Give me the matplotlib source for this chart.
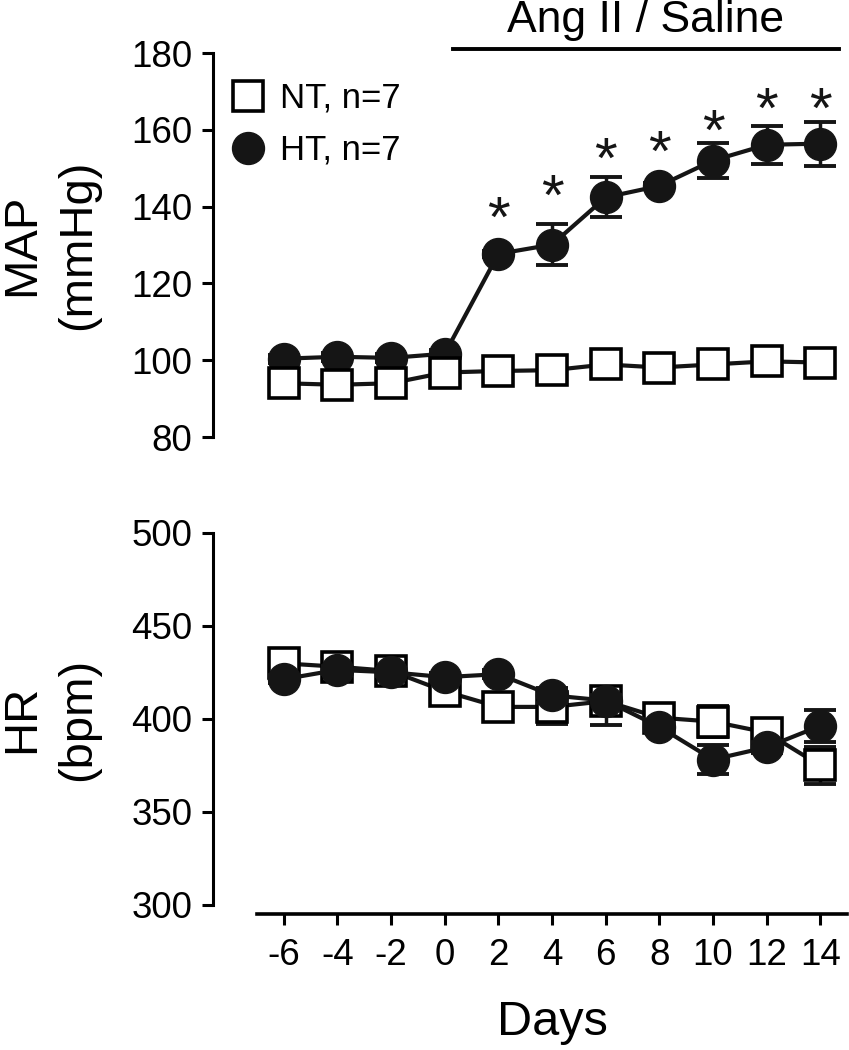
import matplotlib
matplotlib.use("Agg")
import matplotlib.pyplot as plt
from matplotlib.lines import Line2D

plt.rcParams['font.family'] = ['Liberation Sans', 'DejaVu Sans']
plt.rcParams['axes.unicode_minus'] = False

days = [-6, -4, -2, 0, 2, 4, 6, 8, 10, 12, 14]

# MAP (mmHg)
map_nt = [94.0, 93.6, 94.0, 96.8, 97.2, 97.4, 98.9, 98.1, 98.9, 99.7, 99.4]
map_nt_err = [1.0, 1.0, 1.0, 1.0, 1.0, 1.0, 1.0, 1.0, 1.0, 1.0, 1.0]
map_ht = [100.4, 100.9, 100.6, 101.7, 127.7, 130.1, 142.4, 145.4, 152.0, 156.1, 156.4]
map_ht_err = [1.0, 1.0, 1.0, 1.0, 0.8, 5.3, 5.2, 0.8, 4.6, 5.0, 5.7]

# significance stars (day, height of star centre)
star_days = [2, 4, 6, 8, 10, 12, 14]
star_y = [138.9, 144.6, 154.2, 156.0, 161.5, 167.2, 167.2]

# HR (bpm)
hr_nt = [429.9, 428.1, 425.8, 414.9, 406.5, 406.5, 409.6, 400.7, 398.6, 392.7, 375.0]
hr_nt_err = [2, 2, 2, 2, 2, 9, 3, 2, 8.5, 5, 9.7]
hr_ht = [421.4, 426.4, 425.1, 422.5, 424.1, 412.7, 409.9, 395.8, 378.2, 384.8, 396.3]
hr_ht_err_lo = [2, 2, 2, 2, 2, 4, 13, 2, 8, 3, 8.5]
hr_ht_err_hi = [2, 2, 2, 2, 2, 4, 3, 2, 8, 3, 8.5]

treatment_span = [0.3, 14.7]

fig = plt.figure(figsize=(8.49, 10.5), dpi=100)
ax1 = fig.add_axes([0.3027, 0.5838, 0.695, 0.3657])
ax2 = fig.add_axes([0.3027, 0.1381, 0.695, 0.3543])

ink = '#151515'
lw = 3
sq = dict(marker='s', ms=21, mfc='white', mec='black', mew=2.6)
ci = dict(marker='o', ms=23, mfc=ink, mec=ink, mew=1)
eb = dict(fmt='none', ecolor=ink, elinewidth=2.5, capsize=11.5, capthick=2.8)


def style_axis(ax, ymin, ymax, yticks):
    ax.set_xlim(-7, 15)
    ax.set_ylim(ymin, ymax)
    ax.set_yticks(yticks)
    for s in ['top', 'right']:
        ax.spines[s].set_visible(False)
    ax.spines['left'].set_position(('outward', 31.7))
    ax.spines['left'].set_linewidth(2.2)
    ax.spines['bottom'].set_linewidth(2.6)
    ax.tick_params(axis='y', length=8, width=2.2, pad=7, labelsize=26.5)
    ax.tick_params(axis='x', length=8, width=2.2, pad=9, labelsize=26.5)


# top panel: MAP
style_axis(ax1, 80, 180, [80, 100, 120, 140, 160, 180])
ax1.spines['bottom'].set_visible(False)
ax1.tick_params(axis='x', bottom=False, labelbottom=False)

ax1.errorbar(days, map_ht, yerr=map_ht_err, zorder=2, **eb)
ax1.plot(days, map_ht, color=ink, lw=lw, zorder=3, **ci)
ax1.errorbar(days, map_nt, yerr=map_nt_err, zorder=4, **eb)
ax1.plot(days, map_nt, color=ink, lw=lw, zorder=5, **sq)

for d, y in zip(star_days, star_y):
    ax1.annotate('*', (d, y), xytext=(0, -18.5), textcoords='offset points',
                 ha='center', va='baseline', fontsize=42, color=ink)

ax1.plot(treatment_span, [181.0, 181.0], color='black', lw=2.8, clip_on=False)
ax1.text(sum(treatment_span) / 2, 188.4, 'Ang II / Saline', ha='center', va='center',
         fontsize=32, clip_on=False)

ax1.set_ylabel('MAP\n(mmHg)', fontsize=34, linespacing=1.35, va='center')
ax1.yaxis.set_label_coords(-0.35, 0.5)

handles = [Line2D([], [], ls='none', **sq), Line2D([], [], ls='none', **ci)]
ax1.legend(handles, ['NT, n=7', 'HT, n=7'], loc='upper left',
           bbox_to_anchor=(-0.05, 0.925), frameon=False, fontsize=25,
           handlelength=1.2, handletextpad=0.3, labelspacing=0.55,
           borderpad=0, borderaxespad=0)

# bottom panel: HR
style_axis(ax2, 300, 500, [300, 350, 400, 450, 500])
ax2.spines['bottom'].set_position(('outward', 6.5))
ax2.set_xticks(days)

ax2.errorbar(days, hr_nt, yerr=hr_nt_err, zorder=2, **eb)
ax2.plot(days, hr_nt, color=ink, lw=lw, zorder=3, **sq)
ax2.errorbar(days, hr_ht, yerr=[hr_ht_err_lo, hr_ht_err_hi], zorder=4, **eb)
ax2.plot(days, hr_ht, color=ink, lw=lw, zorder=5, **ci)

ax2.set_ylabel('HR\n(bpm)', fontsize=34, linespacing=1.35, va='center')
ax2.yaxis.set_label_coords(-0.35, 0.5)
ax2.set_xlabel('Days', fontsize=35, labelpad=20)

fig.savefig('out.png', dpi=100)
